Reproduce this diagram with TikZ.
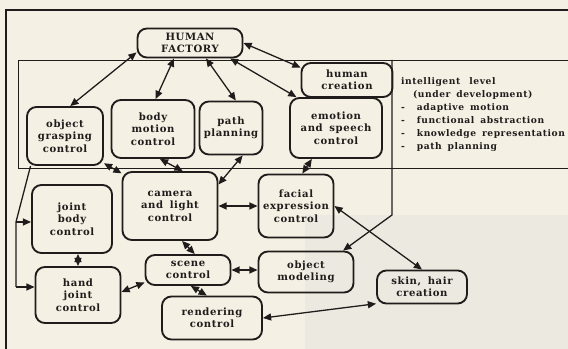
\documentclass[tikz,border=0pt]{standalone}
\usepackage{fontspec}
\setmainfont{DejaVu Serif}
\newfontfamily\boxfont{DejaVu Serif}[LetterSpace=6,WordSpace=1.6]
\usetikzlibrary{arrows.meta}
\definecolor{paper}{RGB}{244,240,227}
\definecolor{paperdark}{RGB}{235,233,224}
\definecolor{ink}{RGB}{32,28,28}
\tikzset{
  unitbox/.style={draw=ink, line width=1.6pt, rounded corners=8pt, align=center, inner sep=0pt,
    font=\boxfont\bfseries\fontsize{8.6}{10.6}\selectfont, text=ink},
  dims/.style 2 args={minimum width=#1*0.03cm, minimum height=#2*0.03cm},
  link/.style={draw=ink, line width=1.1pt, {Triangle[length=7pt,width=6pt]}-{Triangle[length=7pt,width=6pt]}},
  feed/.style={draw=ink, line width=1.1pt, -{Triangle[length=7pt,width=6pt]}},
  frame/.style={draw=ink, line width=0.8pt},
}
\begin{document}
\begin{tikzpicture}[x=0.03cm, y=-0.03cm]
            \fill[paper] (0,0) rectangle (568,349);
            \fill[paperdark] (305,215) rectangle (568,349);
            \useasboundingbox (0,0) rectangle (568,349);
            \draw[frame, line width=1.2pt] (6,352) -- (6,10) -- (572,10);
            \draw[frame] (18,60) rectangle (575,168);
            \node[anchor=north west, align=left, text=ink, font=\boxfont\bfseries\fontsize{7.8}{11.2}\selectfont] (level) at (397,73)
                {intelligent\quad level\\ \ \ (under development)\\ -\ \ adaptive motion\\ -\ \ functional abstraction\\ -\ \ knowledge representation\\ -\ \ path planning};
            \node[unitbox, dims={105}{29}] (hf) at (190,43) {HUMAN\\FACTORY};
            \node[unitbox, dims={91}{34}] (hc) at (347,80) {human\\creation};
            \node[unitbox, dims={76}{58}] (ogc) at (65,136) {object\\grasping\\control};
            \node[unitbox, dims={83}{58}] (bmc) at (153,129) {body\\motion\\control};
            \node[unitbox, dims={63}{53}] (pp) at (231,128) {path\\planning};
            \node[unitbox, dims={92}{60}] (esc) at (336,128) {emotion\\and speech\\control};
            \node[unitbox, dims={95}{68}] (clc) at (170,206) {camera\\and light\\control};
            \node[unitbox, dims={75}{63}] (fec) at (296,206) {facial\\expression\\control};
            \node[unitbox, dims={80}{68}] (jbc) at (72,219) {joint\\body\\control};
            \node[unitbox, dims={85}{56}] (hjc) at (78,295) {hand\\joint\\control};
            \node[unitbox, dims={85}{30}] (sc) at (188,270) {scene\\control};
            \node[unitbox, dims={95}{41}] (om) at (306,272) {object\\modeling};
            \node[unitbox, dims={100}{43}] (rc) at (212,318) {rendering\\control};
            \node[unitbox, dims={90}{33}] (shc) at (422,287) {skin, hair\\creation};
            \coordinate (split) at (392,60);
            \coordinate (bend) at (392,215);
            \coordinate (jbturn) at (16,222);
            \coordinate (hjturn) at (16,287);
            \draw[link] (hf.190) -- (ogc.80);
            \draw[link] (hf.224) -- (bmc.85);
            \draw[link] (hf.316) -- (pp.80);
            \draw[link] (hf.east) -- (hc.165);
            \draw[link] (hf.339) -- (esc.142);
            \draw[link] (ogc.325) -- (clc.146);
            \draw[link] (bmc.283) -- (clc.70);
            \draw[link] (pp.293) -- (clc.24);
            \draw[link] (clc.east) -- (fec.west);
            \draw[link] (esc.232) -- (fec.79);
            \draw[link] (fec.east) -- (shc.north);
            \draw[link] (hjc.north |- jbc.south) -- (hjc.north);
            \draw[link] (clc.289) -- (sc.67);
            \draw[link] (sc.196) -- (hjc.4);
            \draw[link] (sc.east) -- (sc.east -| om.west);
            \draw[link] (sc.280) -- (rc.103);
            \draw[link] (rc.east) -- (shc.200);
            \draw[feed] (split) -- (bend) -- (om.30);
            \draw[draw=ink, line width=1.1pt] (ogc.221) -- (jbturn) -- (hjturn);
            \draw[feed] (jbturn) -- (jbturn -| jbc.west);
            \draw[feed] (hjturn) -- (hjturn -| hjc.west);
        \end{tikzpicture}
\end{document}
